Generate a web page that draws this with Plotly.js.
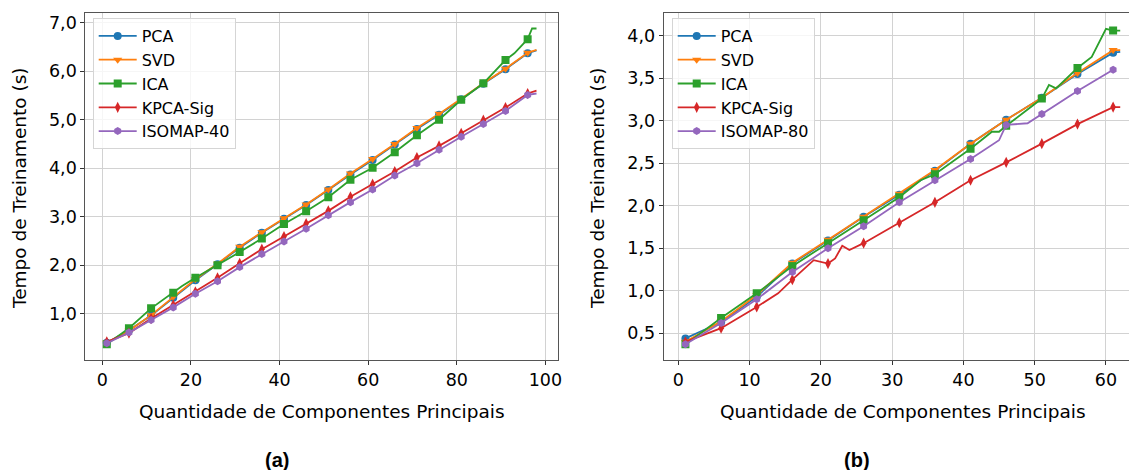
<!DOCTYPE html>
<html><head><meta charset="utf-8">
<script src="https://cdn.plot.ly/plotly-3.0.1.min.js"></script>
<style>html,body{margin:0;padding:0;background:#fff}</style>
</head><body><div id="chart" style="width:1129px;height:470px"></div>
<script>
// ---------- Data: panel (a) ----------
const xA      = [1,6,11,16,21,26,31,36,41,46,51,56,61,66,71,76,81,86,91,96,98];
const pcaA    = [0.40,0.66,0.96,1.33,1.69,2.02,2.36,2.67,2.96,3.24,3.55,3.87,4.17,4.49,4.81,5.10,5.42,5.74,6.04,6.37,6.43];
const svdA    = [0.40,0.65,0.97,1.35,1.71,2.03,2.38,2.68,2.97,3.25,3.56,3.89,4.19,4.50,4.83,5.12,5.43,5.75,6.05,6.38,6.44];
const xIcaA   = [1,6,11,16,18,21,26,31,36,41,46,51,56,61,66,71,76,81,86,91,93,96,97,98];
const icaA    = [0.37,0.70,1.11,1.43,1.57,1.74,2.00,2.27,2.55,2.85,3.11,3.40,3.76,4.01,4.33,4.68,5.00,5.41,5.75,6.23,6.37,6.66,6.88,6.88];
const kpcaA   = [0.42,0.60,0.90,1.18,1.45,1.74,2.04,2.33,2.59,2.86,3.12,3.41,3.67,3.93,4.22,4.46,4.72,4.99,5.25,5.54,5.60];
const isoA    = [0.39,0.61,0.87,1.13,1.41,1.67,1.96,2.23,2.49,2.75,3.03,3.30,3.56,3.85,4.10,4.38,4.65,4.91,5.18,5.51,5.54];

// ---------- Data: panel (b) ----------
const xB      = [1,6,11,16,21,26,31,36,41,46,51,56,61,62];
const pcaB    = [0.44,0.63,0.93,1.32,1.59,1.87,2.13,2.41,2.73,3.01,3.27,3.55,3.80,3.81];
const svdB    = [0.40,0.64,0.95,1.33,1.60,1.87,2.14,2.42,2.73,3.01,3.27,3.56,3.83,3.83];
const xIcaB   = [1,6,11,16,21,26,31,34,36,41,44,45,46,51,52,53,56,58,60,61,62];
const icaB    = [0.37,0.68,0.97,1.29,1.56,1.83,2.10,2.30,2.37,2.67,2.87,2.87,2.94,3.26,3.42,3.38,3.62,3.75,4.08,4.06,4.06];
const xKpcaB  = [1,6,11,14,16,19,21,22,23,24,26,31,36,41,46,51,56,61,62];
const kpcaB   = [0.40,0.56,0.81,0.97,1.13,1.36,1.32,1.38,1.53,1.48,1.56,1.80,2.04,2.30,2.51,2.73,2.96,3.16,3.16];
const xIsoB   = [1,6,11,16,21,26,31,36,41,45,46,49,51,56,61];
const isoB    = [0.37,0.62,0.90,1.22,1.50,1.76,2.04,2.30,2.55,2.77,2.95,2.97,3.08,3.35,3.60];

const namesA = ['PCA','SVD','ICA','KPCA-Sig','ISOMAP-40'];
const namesB = ['PCA','SVD','ICA','KPCA-Sig','ISOMAP-80'];
const colors  = ['#1f77b4','#ff7f0e','#2ca02c','#d62728','#9467bd'];
const symbols = ['circle','triangle-down','square','diamond-tall','hexagon'];

function mk(name, xs, ys, i, xa, ya, leg) {
  return {
    type:'scatter', mode:'lines+markers', name:name, x:xs, y:ys,
    xaxis:xa, yaxis:ya, legend:leg,
    line:{color:colors[i], width:1.8},
    marker:{symbol:symbols[i], size:8, line:{width:0},
            color: xs.map(x => ((x-1)%5===0) ? colors[i] : 'rgba(0,0,0,0)')}
  };
}

const data = [
  mk(namesA[0], xA, pcaA, 0, 'x', 'y', 'legend'),
  mk(namesA[1], xA, svdA, 1, 'x', 'y', 'legend'),
  mk(namesA[2], xIcaA, icaA, 2, 'x', 'y', 'legend'),
  mk(namesA[3], xA, kpcaA, 3, 'x', 'y', 'legend'),
  mk(namesA[4], xA, isoA, 4, 'x', 'y', 'legend'),
  mk(namesB[0], xB, pcaB, 0, 'x2', 'y2', 'legend2'),
  mk(namesB[1], xB, svdB, 1, 'x2', 'y2', 'legend2'),
  mk(namesB[2], xIcaB, icaB, 2, 'x2', 'y2', 'legend2'),
  mk(namesB[3], xKpcaB, kpcaB, 3, 'x2', 'y2', 'legend2'),
  mk(namesB[4], xIsoB, isoB, 4, 'x2', 'y2', 'legend2')
];

const W = 1129, H = 470;
const TICKFS = 17.5, TITLEFS = 18.5, LEGFS = 16;
const axisCommon = {
  ticks:'outside', ticklen:4, tickwidth:1, tickcolor:'#333',
  showline:true, linecolor:'#555', linewidth:1,
  showgrid:true, gridcolor:'#d2d2d2', gridwidth:1, zeroline:false,
  tickfont:{size:TICKFS, color:'#000'}
};
const legCommon = {
  xanchor:'left', yanchor:'top', bgcolor:'rgba(255,255,255,0.8)',
  bordercolor:'#d5d5d5', borderwidth:1, font:{size:LEGFS, color:'#000'},
  itemwidth:38, tracegroupgap:0
};

const layout = {
  width:W, height:H, margin:{l:0,r:0,t:0,b:0},
  paper_bgcolor:'#fff', plot_bgcolor:'#fff',
  font:{family:'DejaVu Sans', size:TICKFS, color:'#000'},
  separators:',.',
  xaxis: Object.assign({}, axisCommon, {domain:[85.3/W, 558/W], range:[-3.85,102.85], tick0:0, dtick:20, mirror:true, anchor:'y'}),
  yaxis: Object.assign({}, axisCommon, {domain:[1-360/H, 1-12.7/H], range:[0.045,7.206], tick0:0, dtick:1, tickformat:'.1f', mirror:true, anchor:'x'}),
  xaxis2: Object.assign({}, axisCommon, {domain:[663.7/W, 1], range:[-2.05,63.23], tick0:0, dtick:10, mirror:true, anchor:'y2'}),
  yaxis2: Object.assign({}, axisCommon, {domain:[1-360/H, 1-12.7/H], range:[0.186,4.27], tick0:0, dtick:0.5, tickformat:'.1f', mirror:false, anchor:'x2'}),
  legend: Object.assign({}, legCommon, {x:92.7/W, y:1-18/H}),
  legend2: Object.assign({}, legCommon, {x:671.7/W, y:1-18/H}),
  annotations:[
    {text:'Quantidade de Componentes Principais', xref:'paper', yref:'paper', x:321.7/W, y:1-411/H, showarrow:false, xanchor:'center', yanchor:'middle', font:{size:TITLEFS}},
    {text:'Quantidade de Componentes Principais', xref:'paper', yref:'paper', x:903/W, y:1-411/H, showarrow:false, xanchor:'center', yanchor:'middle', font:{size:TITLEFS}},
    {text:'Tempo de Treinamento (s)', xref:'paper', yref:'paper', x:19/W, y:1-188/H, showarrow:false, textangle:-90, xanchor:'center', yanchor:'middle', font:{size:TITLEFS}},
    {text:'Tempo de Treinamento (s)', xref:'paper', yref:'paper', x:597/W, y:1-188/H, showarrow:false, textangle:-90, xanchor:'center', yanchor:'middle', font:{size:TITLEFS}},
    {text:'<b>(a)</b>', xref:'paper', yref:'paper', x:277/W, y:1-460/H, showarrow:false, xanchor:'center', yanchor:'middle', font:{size:20, family:'Liberation Sans, Arial, sans-serif'}},
    {text:'<b>(b)</b>', xref:'paper', yref:'paper', x:857/W, y:1-460/H, showarrow:false, xanchor:'center', yanchor:'middle', font:{size:20, family:'Liberation Sans, Arial, sans-serif'}}
  ]
};

Plotly.newPlot('chart', data, layout, {displayModeBar:false, staticPlot:true});
</script></body></html>
